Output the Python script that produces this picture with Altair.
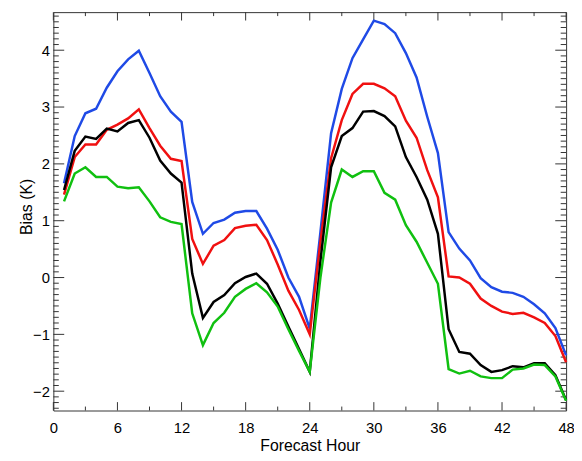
import altair as alt
import pandas as pd

hours = list(range(1, 49))

blue = [1.66, 2.49, 2.89, 2.97, 3.34, 3.63, 3.84, 3.99, 3.60, 3.19, 2.92, 2.74,
        1.33, 0.77, 0.96, 1.02, 1.14, 1.17, 1.17, 0.86, 0.49, 0.00, -0.34, -0.90,
        0.80, 2.54, 3.32, 3.86, 4.19, 4.52, 4.46, 4.30, 3.95, 3.52, 2.83, 2.19,
        0.80, 0.51, 0.30, -0.01, -0.17, -0.25, -0.27, -0.34, -0.47, -0.63, -0.89, -1.37]
red = [1.46, 2.12, 2.34, 2.34, 2.60, 2.69, 2.80, 2.96, 2.63, 2.32, 2.09, 2.05,
       0.68, 0.24, 0.56, 0.66, 0.87, 0.91, 0.93, 0.66, 0.23, -0.23, -0.57, -1.00,
       0.63, 2.10, 2.77, 3.23, 3.41, 3.41, 3.33, 3.19, 2.76, 2.46, 1.89, 1.41,
       0.02, 0.00, -0.11, -0.37, -0.50, -0.60, -0.64, -0.62, -0.70, -0.80, -1.03, -1.49]
black = [1.54, 2.23, 2.48, 2.44, 2.62, 2.57, 2.72, 2.77, 2.46, 2.06, 1.83, 1.67,
         0.07, -0.71, -0.43, -0.31, -0.10, 0.01, 0.07, -0.11, -0.46, -0.86, -1.26, -1.66,
         0.29, 1.94, 2.49, 2.63, 2.92, 2.93, 2.84, 2.66, 2.12, 1.77, 1.37, 0.77,
         -0.91, -1.31, -1.34, -1.54, -1.66, -1.63, -1.56, -1.58, -1.51, -1.51, -1.72, -2.16]
green = [1.34, 1.83, 1.94, 1.77, 1.77, 1.60, 1.57, 1.59, 1.34, 1.06, 0.98, 0.94,
         -0.63, -1.19, -0.80, -0.62, -0.34, -0.20, -0.10, -0.26, -0.51, -0.91, -1.29, -1.66,
         0.00, 1.32, 1.90, 1.77, 1.87, 1.87, 1.49, 1.37, 0.92, 0.63, 0.26, -0.11,
         -1.61, -1.69, -1.64, -1.74, -1.77, -1.77, -1.62, -1.60, -1.53, -1.54, -1.74, -2.17]

series = [("blue", blue, "#1f4ae6"), ("red", red, "#f01010"),
          ("black", black, "#000000"), ("green", green, "#10c010")]

x_labels = [0, 6, 12, 18, 24, 30, 36, 42, 48]
x_minor = [3, 9, 15, 21, 27, 33, 39, 45]
y_labels = [-2, -1, 0, 1, 2, 3, 4]
y_minor = [round(-2.3 + 0.1 * i, 1) for i in range(70)]
y_minor = [v for v in y_minor if abs(v - round(v)) > 1e-6]

W, H = 520, 404
FONT = "Liberation Sans"
AX = "#333333"

xs = alt.Scale(domain=[0, 48], nice=False, zero=False)
ys = alt.Scale(domain=[-2.34, 4.67], nice=False, zero=False)

xaxis = alt.Axis(values=x_labels, format="d", ticks=False, domain=False, grid=False,
                 labelFlush=False, labelFont=FONT, labelFontSize=15, labelColor="black",
                 labelPadding=10, title="Forecast Hour", titleFont=FONT, titleFontSize=16,
                 titleFontWeight="normal", titleColor="black", titleX=W / 2, titleY=41,
                 titleAlign="center", titleBaseline="alphabetic")
yaxis = alt.Axis(values=y_labels, format="d", ticks=False, domain=False, grid=False,
                 labelFlush=False, labelFont=FONT, labelFontSize=15, labelColor="black",
                 labelPadding=4, title="Bias (K)", titleFont=FONT, titleFontSize=16,
                 titleFontWeight="normal", titleColor="black", titleAngle=270,
                 titleX=-27, titleY=197, titleAlign="center", titleBaseline="middle")

X = alt.X("hour:Q", scale=xs, axis=xaxis)
Y = alt.Y("val:Q", scale=ys, axis=yaxis)

xmaj = pd.DataFrame({"hour": x_labels})
xmin = pd.DataFrame({"hour": x_minor})
ymaj = pd.DataFrame({"val": y_labels})
ymin = pd.DataFrame({"val": y_minor})

layers = []
for df, ln in [(xmaj, 8.5), (xmin, 4)]:
    layers.append(alt.Chart(df).mark_rule(color=AX, strokeWidth=1).encode(
        x=X, y=alt.value(H), y2=alt.value(H - ln)))
    layers.append(alt.Chart(df).mark_rule(color=AX, strokeWidth=1).encode(
        x=X, y=alt.value(0), y2=alt.value(ln)))
for df, ln in [(ymaj, 11), (ymin, 5.5)]:
    layers.append(alt.Chart(df).mark_rule(color=AX, strokeWidth=1).encode(
        y=Y, x=alt.value(0), x2=alt.value(ln)))
    layers.append(alt.Chart(df).mark_rule(color=AX, strokeWidth=1).encode(
        y=Y, x=alt.value(W), x2=alt.value(W - ln)))

for name, vals, col in series:
    df = pd.DataFrame({"hour": hours, "val": vals})
    layers.append(alt.Chart(df).mark_line(color=col, strokeWidth=2.5).encode(x=X, y=Y))

chart = alt.layer(*layers).properties(
    width=W, height=H,
    autosize=alt.AutoSizeParams(type="none"),
    padding={"left": 46, "top": 1, "right": 8, "bottom": 48},
).configure_view(stroke=AX, strokeWidth=1)

chart.save("out.html", embed_options={"renderer": "svg", "actions": False})
